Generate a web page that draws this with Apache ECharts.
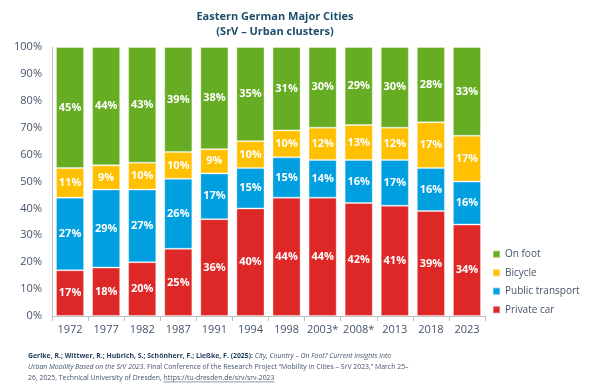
<!DOCTYPE html>
<html><head><meta charset="utf-8">
<script src="https://cdn.jsdelivr.net/npm/echarts@6/dist/echarts.min.js"></script>
<style>html,body{margin:0;padding:0;background:#fff}#c{width:605px;height:390px}</style>
</head><body><div id="c"></div>
<script>
const years = ['1972','1977','1982','1987','1991','1994','1998','2003*','2008*','2013','2018','2023'];
const privateCar = [17,18,20,25,36,40,44,44,42,41,39,34];
const publicTransport = [27,29,27,26,17,15,15,14,16,17,16,16];
const bicycle = [11,9,10,10,9,10,10,12,13,12,17,17];
const onFoot = [45,44,43,39,38,35,31,30,29,30,28,33];
const yTicks = [0,10,20,30,40,50,60,70,80,90,100];

const FONT = '"Open Sans", "Noto Sans", sans-serif';
const axisColor = '#44546A';
const FS = 6.9;
const linkPrefix = '26, 2025, Technical University of Dresden, ';
const linkText = 'https://tu-dresden.de/srv/srv-2023';
const cv = document.createElement('canvas').getContext('2d');
cv.font = FS + 'px ' + FONT;
const prefixW = cv.measureText(linkPrefix).width;
const linkW = cv.measureText(linkText).width;
const footX = 28, footY = 351, footLH = 10.8;

const chart = echarts.init(document.getElementById('c'), null, {renderer:'canvas'});
function ser(name, data, color){
  return {
    name, type:'bar', stack:'all', data, barCategoryGap:'22%',
    itemStyle:{color, borderColor:'rgba(255,255,255,0.35)', borderWidth:1},
    label:{show:true, position:'inside', formatter:'{c}%', color:'#fff', fontWeight:'bold', fontSize:11, fontFamily:FONT},
    emphasis:{disabled:true}
  };
}
chart.setOption({
  animation:false,
  title:{
    text:'Eastern German Major Cities\n(SrV – Urban clusters)',
    left:270, textAlign:'center', top:4,
    textStyle:{fontSize:11, fontWeight:'bold', color:'#1D4E6B', fontFamily:FONT, lineHeight:15.5}
  },
  legend:{
    orient:'vertical', left:487, top:243,
    data:['On foot','Bicycle','Public transport','Private car'],
    icon:'rect', itemWidth:7, itemHeight:7, itemGap:6,
    textStyle:{fontSize:10, color:axisColor, fontFamily:FONT, lineHeight:12.5}
  },
  grid:{left:52, right:120, top:47, bottom:74},
  xAxis:{
    type:'category', data:years,
    axisLine:{lineStyle:{color:'#BFBFBF'}},
    axisTick:{show:true, alignWithLabel:false, lineStyle:{color:'#BFBFBF'}, length:5},
    axisLabel:{color:axisColor, fontSize:11, fontFamily:FONT, margin:8, interval:0}
  },
  yAxis:{
    type:'value', min:0, max:100, interval:10,
    axisLine:{show:true, lineStyle:{color:'#BFBFBF'}},
    axisTick:{show:false},
    splitLine:{show:false},
    axisLabel:{color:axisColor, fontSize:11, fontFamily:FONT, formatter:'{value}%', margin:10}
  },
  series:[
    ser('Private car', privateCar, '#DE2727'),
    ser('Public transport', publicTransport, '#009FE0'),
    ser('Bicycle', bicycle, '#FFC000'),
    ser('On foot', onFoot, '#67AD23')
  ],
  graphic:[
    {type:'text', left:footX, top:footY, silent:true, style:{
      text:'{b|Gerike, R.; Wittwer, R.; Hubrich, S.; Schönherr, F.; Ließke, F. (2025):} {i|City, Country – On Foot? Current Insights into}\n{i|Urban Mobility Based on the SrV 2023}{n|. Final Conference of the Research Project “Mobility in Cities – SrV 2023,” March 25–}\n{n|' + linkPrefix + '}{n|' + linkText + '}',
      fontSize:FS, fontFamily:FONT, lineHeight:footLH, fill:'#44546A',
      rich:{
        b:{fontWeight:'bold', fill:'#1F3A5A', fontSize:FS, fontFamily:FONT, lineHeight:footLH},
        i:{fontStyle:'italic', fill:'#44546A', fontSize:FS, fontFamily:FONT, lineHeight:footLH},
        n:{fill:'#44546A', fontSize:FS, fontFamily:FONT, lineHeight:footLH}
      }
    }},
    {type:'line', silent:true, shape:{x1:footX + prefixW, y1:footY + footLH*3 - 1.5, x2:footX + prefixW + linkW, y2:footY + footLH*3 - 1.5},
     style:{stroke:'#44546A', lineWidth:0.6}}
  ]
});
</script></body></html>
